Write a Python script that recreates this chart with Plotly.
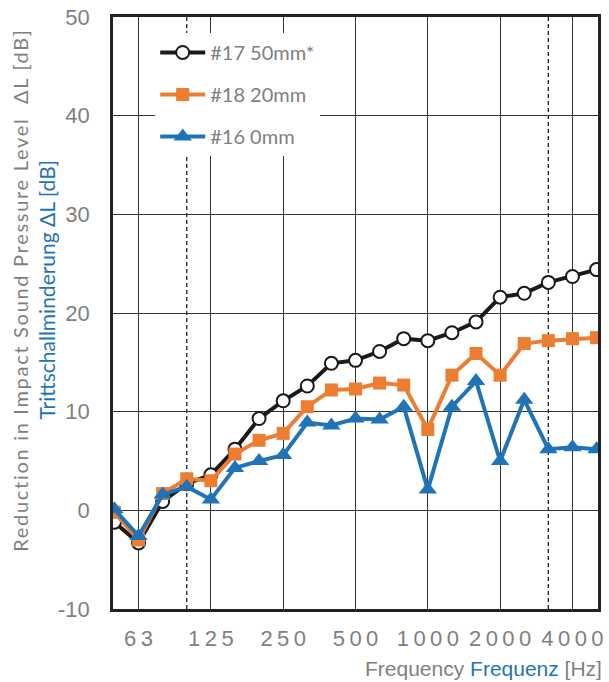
import plotly.graph_objects as go

# ---- data ----
freqs = [50, 63, 80, 100, 125, 160, 200, 250, 315, 400, 500, 630, 800,
         1000, 1250, 1600, 2000, 2500, 3150, 4000, 5000]
s17_50mm = [-1.2, -3.3, 0.9, 2.7, 3.6, 6.2, 9.3, 11.1, 12.6, 14.9, 15.2, 16.1, 17.4,
            17.2, 18.0, 19.1, 21.6, 22.0, 23.1, 23.7, 24.4]
s18_20mm = [-0.2, -3.0, 1.7, 3.2, 3.0, 5.7, 7.1, 7.8, 10.5, 12.2, 12.3, 12.9, 12.7,
            8.2, 13.7, 15.9, 13.7, 16.9, 17.2, 17.4, 17.5]
s16_0mm = [0.1, -2.6, 1.6, 2.4, 1.1, 4.3, 5.0, 5.6, 8.9, 8.6, 9.3, 9.2, 10.5,
           2.1, 10.5, 13.1, 5.0, 11.2, 6.2, 6.4, 6.2]
series_names = ["#17 50mm*", "#18 20mm", "#16 0mm"]
tick_freqs = [63, 125, 250, 500, 1000, 2000, 4000]
dashed_freqs = [100, 3150]
y_ticks = [-10, 0, 10, 20, 30, 40, 50]

GRAY = "#7f7f7f"
BLUE = "#1f73b7"
ORANGE = "#ed7d31"
CAL = "Lato, 'Liberation Sans', sans-serif"
ARIAL = "'Liberation Sans', Arial, sans-serif"

idx = list(range(len(freqs)))
fig = go.Figure()
fig.add_trace(go.Scatter(
    x=idx, y=s17_50mm, name=series_names[0], mode="lines+markers", legendgroup="a",
    line=dict(color="#1a1a1a", width=4),
    marker=dict(symbol="circle", size=13, color="white", line=dict(color="#1a1a1a", width=2))))
fig.add_trace(go.Scatter(
    x=idx, y=s18_20mm, name=series_names[1], mode="lines+markers", legendgroup="b",
    line=dict(color=ORANGE, width=4),
    marker=dict(symbol="square", size=13, color=ORANGE)))
fig.add_trace(go.Scatter(
    x=idx, y=s16_0mm, name=series_names[2], mode="lines+markers", legendgroup="c",
    line=dict(color=BLUE, width=4),
    marker=dict(symbol="triangle-up", size=16, color=BLUE)))

for f in dashed_freqs:
    xi = freqs.index(f)
    fig.add_shape(type="line", xref="x", yref="paper", x0=xi, x1=xi, y0=0, y1=1,
                  line=dict(color="#222", width=1.3, dash="4px,3px"), layer="below")

tick_idx = [freqs.index(f) for f in tick_freqs]
tick_text = ["\u2009".join(str(f)) for f in tick_freqs]

fig.update_xaxes(
    range=[-0.06, 20.06], tickvals=tick_idx, ticktext=tick_text, automargin=False,
    showgrid=True, gridcolor="#333", gridwidth=1.3,
    showline=True, linecolor="#222", linewidth=2.5, mirror=True,
    ticks="", ticklabelstandoff=8,
    tickfont=dict(family=ARIAL, size=22, color=GRAY), zeroline=False)
fig.update_yaxes(
    range=[-10, 50], tickvals=y_ticks, ticktext=[str(v) for v in y_ticks], automargin=False,
    showgrid=True, gridcolor="#333", gridwidth=1.3,
    showline=True, linecolor="#222", linewidth=2.5, mirror=True,
    ticks="", ticklabelstandoff=16,
    tickfont=dict(family=ARIAL, size=22, color=GRAY), zeroline=False)

fig.add_annotation(
    xref="paper", yref="paper", x=-0.192, y=0.539, textangle=-90,
    text="<span style='letter-spacing:1.7px'>Reduction in Impact Sound Pressure Level  \u0394L [dB]</span>",
    showarrow=False,
    font=dict(family=CAL, size=20, color=GRAY), xanchor="center", yanchor="middle")
fig.add_annotation(
    xref="paper", yref="paper", x=-0.137, y=0.539, textangle=-90,
    text="Trittschallminderung \u0394L [dB]", showarrow=False,
    font=dict(family=CAL, size=21, color=BLUE), xanchor="center", yanchor="middle")
fig.add_annotation(
    xref="paper", yref="paper", x=1.012, y=-0.0997,
    text=f"Frequency <span style='color:{BLUE}'>Frequenz</span> [Hz]", showarrow=False,
    font=dict(family=ARIAL, size=21, color=GRAY), xanchor="right", yanchor="middle")

fig.update_layout(
    width=609, height=682,
    margin=dict(l=113, r=11, t=17, b=73, autoexpand=False),
    paper_bgcolor="white", plot_bgcolor="white",
    showlegend=True,
    legend=dict(x=0.087, y=0.973, xanchor="left", yanchor="top",
                bgcolor="white", borderwidth=0, tracegroupgap=13, itemwidth=45,
                font=dict(family=CAL, size=20, color=GRAY)),
)
fig.write_html("out.html", config={"displayModeBar": False},
               post_script="document.body.style.margin='0';document.body.style.overflow='hidden';")
